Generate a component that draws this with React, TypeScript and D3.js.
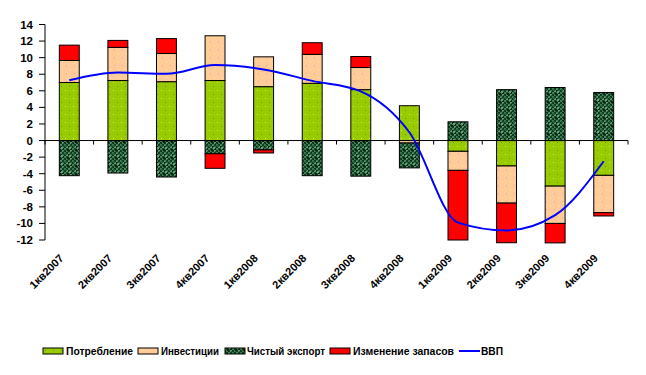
import React from 'react';
import * as d3 from 'd3';

// quarters
const quarters = ['1кв2007', '2кв2007', '3кв2007', '4кв2007', '1кв2008', '2кв2008', '3кв2008', '4кв2008', '1кв2009', '2кв2009', '3кв2009', '4кв2009'];

// contributions, p.p.
const consumption = [7.0, 7.24, 7.1, 7.24, 6.5, 6.9, 6.14, 4.2, -1.3, -3.07, -5.5, -4.2];
const investment = [2.66, 4.0, 3.4, 5.4, 3.6, 3.5, 2.67, -0.3, -2.3, -4.48, -4.5, -4.5];
const netExport = [-4.24, -3.92, -4.4, -1.6, -1.13, -4.24, -4.3, -3.0, 2.26, 6.14, 6.4, 5.8];
const inventories = [1.85, 0.84, 1.8, -1.75, -0.37, 1.4, 1.33, 0, -8.4, -4.78, -2.35, -0.4];
const gdp = [7.27, 8.2, 8.05, 9.1, 8.57, 7.2, 5.94, 1.0, -9.9, -10.85, -9.0, -2.5];

const yTicks = [-12, -10, -8, -6, -4, -2, 0, 2, 4, 6, 8, 10, 12, 14];

const seriesNames = ['Потребление', 'Инвестиции', 'Чистый экспорт', 'Изменение запасов'];
const seriesKeys = ['cons', 'inv', 'nx', 'stock'];
const fills = ['url(#pCons)', 'url(#pInv)', 'url(#pNx)', '#ff0000'];

const W = 646;
const H = 375;
const left = 45, right = 628, top = 24.5, bottom = 240;
const font = '"Liberation Sans", Arial, sans-serif';

// camouflage cells for net export texture (hand placed)
const camo = [
  [0, 0, '#3a7a50'], [2, 0, '#0b3318'], [4, 0, '#4a8a60'], [6, 0, '#123d20'],
  [0, 2, '#0e3a1c'], [2, 2, '#5a9a70'], [4, 2, '#0b2e16'], [6, 2, '#34704a'],
  [0, 4, '#447f58'], [2, 4, '#174a28'], [4, 4, '#357550'], [6, 4, '#0a2a14'],
  [0, 6, '#123a1e'], [2, 6, '#3d7a52'], [4, 6, '#0e3a1c'], [6, 6, '#5f9a74'],
  [1, 1, '#24603a'], [5, 3, '#669f7a'], [3, 5, '#0a2612'], [7, 7, '#22593a'],
];

export default function App() {
  const rows = quarters.map((q, i) => ({
    q, cons: consumption[i], inv: investment[i], nx: netExport[i], stock: inventories[i],
  }));

  const stacked = d3.stack<any>()
    .keys(seriesKeys)
    .offset(d3.stackOffsetDiverging)(rows);

  const x = d3.scaleBand().domain(quarters).range([left, right]).padding(0);
  const y = d3.scaleLinear().domain([-12, 14]).range([bottom, top]);
  const barW = x.bandwidth() * 0.41;
  const cx = (q: string) => (x(q) as number) + x.bandwidth() / 2;

  const line = d3.line<number>()
    .x((_, i) => cx(quarters[i]))
    .y(d => y(d))
    .curve(d3.curveMonotoneX);

  const boundaries = d3.range(quarters.length + 1).map(i => left + i * x.step());

  const legend = [
    { x: 43, tx: 66, w: 67 },
    { x: 138, tx: 161, w: 58 },
    { x: 225, tx: 247, w: 78 },
    { x: 330, tx: 353, w: 101 },
  ];

  return (
    <svg width={W} height={H} style={{ position: 'absolute', left: 0, top: 0, background: '#fff' }}>
      <defs>
        <pattern id="pCons" width="8" height="8" patternUnits="userSpaceOnUse">
          <rect width="8" height="8" fill="#99cc00" />
          <rect x="1" y="2" width="1" height="1" fill="#d6f06a" />
          <rect x="5" y="6" width="1" height="1" fill="#6a9a00" />
        </pattern>
        <pattern id="pInv" width="8" height="8" patternUnits="userSpaceOnUse">
          <rect width="8" height="8" fill="#ffcc99" />
          <rect x="2" y="1" width="1" height="1" fill="#ff9999" />
          <rect x="6" y="5" width="1" height="1" fill="#ffee88" />
        </pattern>
        <pattern id="pNx" width="8" height="8" patternUnits="userSpaceOnUse">
          <rect width="8" height="8" fill="#1f4f2f" />
          {camo.map(([cx0, cy0, c], k) => (
            <rect key={k} x={cx0 as number} y={cy0 as number} width="2" height="2" fill={c as string} />
          ))}
        </pattern>
      </defs>

      {/* bars */}
      {stacked.map((s, si) => (
        <g key={s.key} fill={fills[si]} stroke="#000" strokeWidth={1}>
          {s.map((d, i) => {
            const h = Math.abs(y(d[0]) - y(d[1]));
            if (h < 0.01) return null;
            return (
              <rect key={i}
                x={cx(quarters[i]) - barW / 2}
                y={Math.min(y(d[0]), y(d[1]))}
                width={barW}
                height={h} />
            );
          })}
        </g>
      ))}

      {/* y axis */}
      <line x1={left} x2={left} y1={top} y2={bottom} stroke="#000" />
      {yTicks.map(t => (
        <g key={t}>
          <line x1={left - 6} x2={left} y1={y(t)} y2={y(t)} stroke="#000" />
          <text x={33} y={y(t) + 4} textAnchor="end" fontFamily={font} fontWeight="bold" fontSize={11.5}>{t}</text>
        </g>
      ))}

      {/* x axis at zero */}
      <line x1={left} x2={right} y1={y(0)} y2={y(0)} stroke="#000" />
      {boundaries.map((b, i) => (
        <line key={i} x1={b} x2={b} y1={y(0)} y2={y(0) + 4} stroke="#000" />
      ))}

      {/* gdp line */}
      <path d={line(gdp) || ''} fill="none" stroke="#0000ff" strokeWidth={2} />

      {/* x labels */}
      {quarters.map(q => (
        <text key={q}
          transform={`translate(${cx(q) - 5},${259}) rotate(-45)`}
          textAnchor="end" fontFamily={font} fontWeight="bold" fontSize={11}
          textLength={43} lengthAdjust="spacingAndGlyphs">{q}</text>
      ))}

      {/* legend */}
      {legend.map((l, i) => (
        <g key={i}>
          <rect x={l.x} y={348} width={20} height={6} fill={fills[i]} stroke="#000" />
          <text x={l.tx} y={355} fontFamily={font} fontWeight="bold" fontSize={11}
            textLength={l.w} lengthAdjust="spacingAndGlyphs">{seriesNames[i]}</text>
        </g>
      ))}
      <line x1={459} x2={480} y1={351} y2={351} stroke="#0000ff" strokeWidth={2} />
      <text x={481} y={355} fontFamily={font} fontWeight="bold" fontSize={11}
        textLength={22} lengthAdjust="spacingAndGlyphs">ВВП</text>
    </svg>
  );
}
